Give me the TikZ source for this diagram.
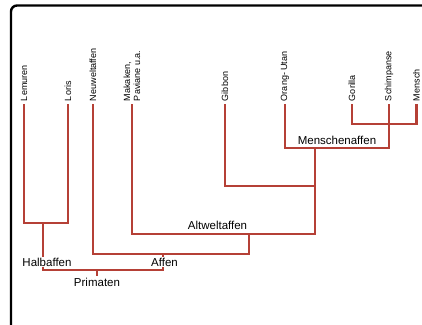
\documentclass[tikz,border=0pt]{standalone}
\usepackage{fontspec}
\setmainfont{Liberation Sans}

\definecolor{astcolor}{RGB}{181,64,54}

\begin{document}
\begin{tikzpicture}[x=1pt,y=-1pt,
        ast/.style={draw=astcolor, line width=2.8pt},
        art/.style={rotate=90, anchor=west, inner sep=0pt, outer sep=3pt,
        align=left, font=\fontsize{9}{10}\selectfont},
        gruppe/.style={inner sep=0.5pt, font=\fontsize{11.5}{12}\selectfont}
        ]
    \useasboundingbox (0,0) rectangle (422,324);
    \clip (0,0) rectangle (422,324);
    \draw [line width=2.4pt, rounded corners=6pt] (11,5.5) rectangle (470,370);

    % Arten
    \node[art] (lem) at (24,104) {Lemuren};
    \node[art] (lor) at (68,104) {Loris};
    \node[art] (neu) at (93,104) {Neuweltaffen};
    \node[art] (mak) at (132,104) {Makaken,\\Paviane u.a.};
    \node[art] (gib) at (225,104) {Gibbon};
    \node[art] (ora) at (285,104) {Orang- Utan};
    \node[art] (gor) at (352,104) {Gorilla};
    \node[art] (sch) at (389,104) {Schimpanse};
    \node[art] (men) at (416.5,104) {Mensch};

    % Verzweigungen
    \coordinate (halb) at (43,223);
    \coordinate (prim) at (97,270);
    \coordinate (prim_t) at (97,276);
    \coordinate (affe) at (163,254);
    \coordinate (altw) at (249,234);
    \coordinate (hom) at (315,186);
    \coordinate (mena) at (315,148);
    \coordinate (hmn) at (389,124);

    \draw [ast] (lem.west) |- (halb) -| (lor.west);
    \draw [ast] (halb) |- (prim) -| (affe);
    \draw [ast] (prim) -- (prim_t);
    \draw [ast] (neu.west) |- (affe) -| (altw);
    \draw [ast] (mak.west) |- (altw) -| (hom);
    \draw [ast] (gib.west) |- (hom) -- (mena);
    \draw [ast] (ora.west) |- (mena) -| (sch.west);
    \draw [ast] (gor.west) |- (hmn) -| (men.west);

    % Gruppen
    \node[gruppe, fill=white] (l_halb) at (47,262) {Halbaffen};
    \node[gruppe, fill=white] (l_affe) at (164.5,262) {Affen};
    \node[gruppe] (l_prim) at (97,282) {Primaten};
    \node[gruppe] (l_altw) at (217.5,225) {Altweltaffen};
    \node[gruppe] (l_mena) at (337,140) {Menschenaffen};
\end{tikzpicture}
\end{document}
